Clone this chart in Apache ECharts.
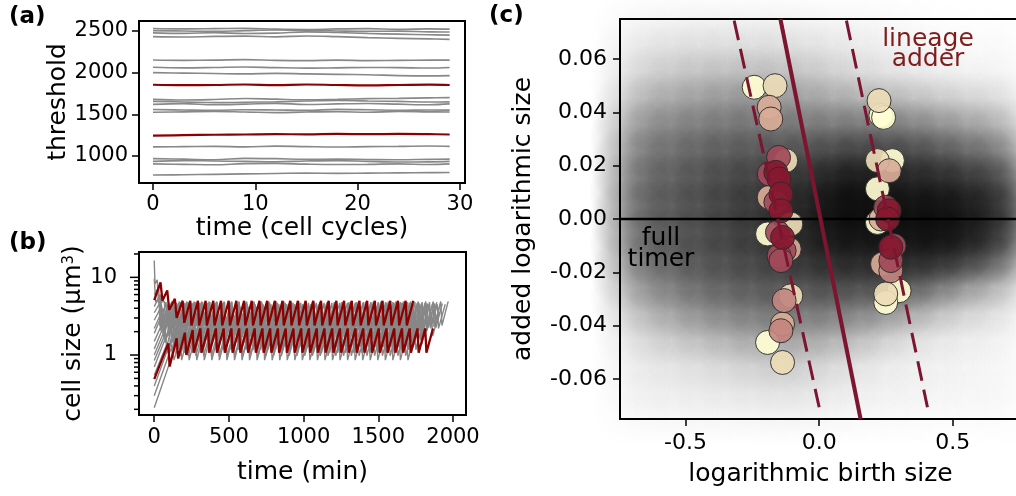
<!DOCTYPE html>
<html>
<head>
<meta charset="utf-8">
<script src="https://cdn.jsdelivr.net/npm/echarts@6/dist/echarts.min.js"></script>
<style>
  html, body { margin: 0; padding: 0; background: #fff; }
  #chart { width: 1016px; height: 496px; }
</style>
</head>
<body>
<div id="chart"></div>
<script>
// ---- (a) division threshold of each lineage, read every few cycles ----
var cycles = [0, 3, 6, 9, 12, 15, 18, 21, 24, 27, 29];
var thresholdGray = [
  [2530, 2525, 2528, 2532, 2522, 2518, 2525, 2528, 2520, 2526, 2522],
  [2505, 2500, 2495, 2505, 2512, 2508, 2500, 2495, 2498, 2490, 2488],
  [2478, 2472, 2480, 2470, 2475, 2490, 2482, 2470, 2462, 2455, 2450],
  [2432, 2428, 2435, 2438, 2430, 2440, 2432, 2420, 2412, 2405, 2400],
  [2152, 2148, 2150, 2156, 2148, 2145, 2150, 2145, 2148, 2150, 2150],
  [2065, 2058, 2062, 2068, 2060, 2055, 2058, 2062, 2060, 2056, 2062],
  [2000, 1995, 1990, 1985, 1992, 1985, 1980, 1975, 1965, 1962, 1965],
  [1680, 1672, 1678, 1690, 1682, 1675, 1680, 1688, 1692, 1698, 1700],
  [1655, 1648, 1640, 1645, 1650, 1660, 1668, 1660, 1655, 1648, 1650],
  [1620, 1628, 1615, 1622, 1632, 1618, 1625, 1630, 1622, 1615, 1625],
  [1558, 1552, 1548, 1555, 1552, 1548, 1560, 1555, 1548, 1552, 1550],
  [1525, 1530, 1535, 1528, 1520, 1528, 1532, 1525, 1535, 1530, 1528],
  [1110, 1112, 1115, 1110, 1118, 1112, 1108, 1112, 1115, 1120, 1115],
  [968, 962, 955, 972, 968, 960, 962, 958, 955, 960, 962],
  [935, 945, 940, 935, 930, 940, 945, 935, 928, 930, 935],
  [905, 900, 895, 908, 910, 902, 898, 900, 905, 898, 905],
  [772, 775, 780, 785, 790, 795, 792, 795, 798, 800, 802]
];
var thresholdRed = [
  [1855, 1850, 1852, 1858, 1850, 1858, 1852, 1848, 1852, 1856, 1852],
  [1245, 1250, 1255, 1258, 1262, 1260, 1265, 1262, 1265, 1262, 1258]
];

// ---- (b) cell size: start of each trace, then steady trough / peak / cycle length ----
var redHead = [
  [[0, 5.1], [42, 8.6], [55, 5.0], [87, 6.8], [100, 3.8], [138, 5.3], [150, 3.0], [190, 5.0], [201, 2.6], [241, 5.0]],
  [[0, 0.49], [94, 1.41], [103, 0.71], [150, 1.64], [160, 0.9], [205, 1.94], [215, 1.0], [257, 2.1]]
];
var redLow = [2.4, 1.07];
var redHigh = [5.0, 2.2];
var redPeriod = [51.5, 51.9];
var redEnd = [1740, 1870];

var grayHead = [
  [[0, 16.5], [5, 8.2], [20, 9.3], [28, 4.7], [68, 4.9]],
  [[0, 9.6], [10, 4.8], [45, 5.6]],
  [[0, 6.0], [30, 7.5]],
  [[0, 4.2], [40, 6.0]],
  [[0, 3.5], [35, 4.6]],
  [[0, 2.8], [50, 4.3]],
  [[0, 2.2], [60, 4.0]],
  [[0, 1.9], [55, 3.4]],
  [[0, 1.5], [70, 3.0]],
  [[0, 1.2], [65, 2.4]],
  [[0, 1.0], [90, 2.6]],
  [[0, 0.85], [75, 1.9]],
  [[0, 0.7], [100, 2.2]],
  [[0, 0.55], [85, 1.4]],
  [[0, 0.4], [110, 1.5]],
  [[0, 0.3], [115, 1.25]],
  [[0, 0.21], [125, 1.05]]
];
var grayLow = [2.4, 2.3, 2.35, 2.2, 2.05, 1.9, 2.25, 1.7, 1.55, 1.45, 1.75, 1.27, 1.37, 1.07, 1.17, 0.98, 0.86];
var grayHigh = [4.9, 4.7, 4.8, 4.5, 4.2, 3.9, 4.6, 3.5, 3.2, 3.0, 3.6, 2.6, 2.8, 2.2, 2.4, 2.0, 1.8];
var grayPeriod = [50, 52, 49, 53, 54, 51, 50.5, 52.5, 55, 48.5, 53.5, 50, 51, 54, 49.5, 52, 50.5];
var grayEnd = [1990, 1960, 1930, 2000, 1900, 1880, 1950, 1820, 1850, 1800, 1910, 1790, 1840, 1780, 1810, 1770, 1760];
var sizeMajorTicks = [1, 10];
var sizeMinorTicks = [0.2, 0.3, 0.4, 0.5, 0.6, 0.7, 0.8, 0.9, 2, 3, 4, 5, 6, 7, 8, 9, 20];

// ---- (c) background cloud: darkness read on a grid ----
var cloudX = [-0.7, -0.6, -0.5, -0.4, -0.3, -0.2, -0.1, 0, 0.1, 0.2, 0.3, 0.4, 0.5, 0.6, 0.7];
var cloudY = [0.07, 0.06, 0.05, 0.04, 0.03, 0.02, 0.01, 0, -0.01, -0.02, -0.03, -0.04, -0.05, -0.06, -0.07];
var cloudDark = [
  [0.06, 0.06, 0.08, 0.08, 0.08, 0.08, 0.08, 0.06, 0.05, 0.05, 0.03, 0.02, 0.01, 0.01, 0.01],
  [0.10, 0.12, 0.14, 0.14, 0.14, 0.14, 0.14, 0.12, 0.10, 0.07, 0.06, 0.05, 0.03, 0.03, 0.03],
  [0.16, 0.20, 0.24, 0.26, 0.28, 0.28, 0.25, 0.22, 0.17, 0.14, 0.12, 0.09, 0.07, 0.06, 0.05],
  [0.28, 0.32, 0.36, 0.38, 0.40, 0.40, 0.38, 0.35, 0.34, 0.34, 0.32, 0.28, 0.24, 0.20, 0.17],
  [0.38, 0.42, 0.46, 0.48, 0.50, 0.50, 0.50, 0.50, 0.52, 0.52, 0.50, 0.47, 0.42, 0.36, 0.32],
  [0.44, 0.48, 0.52, 0.56, 0.58, 0.60, 0.62, 0.65, 0.70, 0.70, 0.68, 0.66, 0.60, 0.55, 0.50],
  [0.48, 0.52, 0.56, 0.60, 0.64, 0.66, 0.70, 0.76, 0.84, 0.82, 0.78, 0.78, 0.76, 0.70, 0.66],
  [0.48, 0.52, 0.56, 0.60, 0.64, 0.68, 0.72, 0.78, 0.86, 0.84, 0.84, 0.86, 0.84, 0.76, 0.68],
  [0.46, 0.52, 0.56, 0.60, 0.62, 0.66, 0.70, 0.75, 0.78, 0.78, 0.78, 0.80, 0.78, 0.70, 0.60],
  [0.38, 0.45, 0.50, 0.55, 0.56, 0.60, 0.60, 0.65, 0.66, 0.66, 0.65, 0.60, 0.50, 0.40, 0.30],
  [0.26, 0.32, 0.40, 0.45, 0.48, 0.50, 0.50, 0.50, 0.50, 0.47, 0.42, 0.34, 0.24, 0.18, 0.12],
  [0.14, 0.20, 0.26, 0.30, 0.35, 0.37, 0.37, 0.35, 0.32, 0.26, 0.18, 0.12, 0.09, 0.07, 0.06],
  [0.08, 0.10, 0.13, 0.15, 0.18, 0.21, 0.21, 0.18, 0.14, 0.10, 0.06, 0.06, 0.05, 0.04, 0.03],
  [0.06, 0.06, 0.07, 0.09, 0.10, 0.12, 0.12, 0.10, 0.07, 0.06, 0.05, 0.05, 0.04, 0.03, 0.03],
  [0.05, 0.05, 0.06, 0.06, 0.06, 0.07, 0.07, 0.06, 0.05, 0.04, 0.04, 0.03, 0.03, 0.03, 0.03]
];

// ---- (c) lineages: [birth size, added size, colour level 0..5] ----
var lineagePoints = [
  [-0.243, 0.0494, 0], [-0.165, 0.050, 1], [-0.187, 0.0419, 2], [-0.181, 0.0375, 2],
  [-0.125, 0.0219, 1], [-0.152, 0.0231, 4], [-0.187, 0.0169, 4], [-0.162, 0.0175, 5],
  [-0.187, 0.0081, 2], [-0.150, 0.015, 5], [-0.162, 0.0063, 4], [-0.143, 0.0094, 5],
  [-0.143, 0.0031, 5], [-0.106, -0.0019, 1], [-0.193, -0.0056, 0], [-0.156, -0.005, 4],
  [-0.137, -0.0069, 5], [-0.112, -0.0113, 2], [-0.131, -0.0119, 4], [-0.150, -0.0138, 4],
  [-0.143, -0.0156, 4], [-0.106, -0.0288, 1], [-0.131, -0.0306, 3], [-0.137, -0.0394, 2],
  [-0.143, -0.0419, 3], [-0.193, -0.0463, 0], [-0.137, -0.0538, 1],
  [0.224, 0.0444, 1], [0.231, 0.0388, 0], [0.241, 0.0381, 0], [0.274, 0.0219, 0],
  [0.218, 0.0219, 1], [0.262, 0.0181, 2], [0.218, 0.0113, 0], [0.249, 0.0044, 4],
  [0.262, 0.0031, 5], [0.218, -0.0013, 0], [0.231, 0.0, 2], [0.256, 0.0, 5],
  [0.280, -0.010, 4], [0.268, -0.0106, 5], [0.268, -0.0156, 4], [0.237, -0.0169, 2],
  [0.268, -0.0194, 3], [0.299, -0.0269, 0], [0.249, -0.0281, 1], [0.249, -0.0313, 0]
];
var levelColors = ['#fffed2', '#ecdcb6', '#d8ad97', '#c2857f', '#a14a59', '#86182f'];
var timerLine = [[-0.145, 0.075], [0.155, -0.075]];
var adderLeft = [[-0.318, 0.0744], [0.0, -0.0706]];
var adderRight = [[0.102, 0.0744], [0.405, -0.0706]];

var FONT = 'DejaVu Sans';
var RED = '#8b0000';
var LINE_RED = '#7b1530';

function sawtooth(head, lo, hi, period, tEnd) {
  var pts = head.slice();
  var t = head[head.length - 1][0];
  while (t + period <= tEnd) {
    pts.push([t + 8, lo]);
    pts.push([t + period, hi]);
    t += period;
  }
  return pts;
}

function tickAxis(extra) {
  var base = {
    axisLine: { show: false, onZero: false },
    splitLine: { show: false },
    axisTick: { show: true, inside: false, length: 7, lineStyle: { color: '#000', width: 1.5 } },
    axisLabel: { color: '#000', fontFamily: FONT, fontSize: 21, formatter: function (v) { return String(v); } },
    nameTextStyle: { color: '#000', fontFamily: FONT, fontSize: 25 },
    nameLocation: 'middle'
  };
  for (var k in extra) {
    if (typeof extra[k] === 'object' && base[k] && !Array.isArray(extra[k])) {
      base[k] = Object.assign({}, base[k], extra[k]);
    } else {
      base[k] = extra[k];
    }
  }
  return base;
}

var series = [];

// (a)
thresholdGray.forEach(function (row) {
  series.push({
    type: 'line', xAxisIndex: 0, yAxisIndex: 0, showSymbol: false, smooth: 0.4, silent: true,
    data: cycles.map(function (c, i) { return [c, row[i]]; }),
    lineStyle: { color: '#888', width: 1.6 }
  });
});
thresholdRed.forEach(function (row) {
  series.push({
    type: 'line', xAxisIndex: 0, yAxisIndex: 0, showSymbol: false, smooth: 0.4, silent: true,
    data: cycles.map(function (c, i) { return [c, row[i]]; }),
    lineStyle: { color: RED, width: 2.2 }
  });
});

// (b)
grayHead.forEach(function (head, i) {
  series.push({
    type: 'line', xAxisIndex: 1, yAxisIndex: 1, showSymbol: false, silent: true,
    data: sawtooth(head, grayLow[i], grayHigh[i], grayPeriod[i], grayEnd[i]),
    lineStyle: { color: '#878787', width: 1.4 }
  });
});
redHead.forEach(function (head, i) {
  series.push({
    type: 'line', xAxisIndex: 1, yAxisIndex: 1, showSymbol: false, silent: true,
    data: sawtooth(head, redLow[i], redHigh[i], redPeriod[i], redEnd[i]),
    lineStyle: { color: RED, width: 2.3 }
  });
});
series.push({
  type: 'custom', xAxisIndex: 1, yAxisIndex: 1, clip: false, silent: true, z: 10,
  data: sizeMajorTicks.map(function (v) { return [-102, v, 8]; })
    .concat(sizeMinorTicks.map(function (v) { return [-102, v, 4]; })),
  renderItem: function (params, api) {
    var p = api.coord([api.value(0), api.value(1)]);
    return {
      type: 'line',
      shape: { x1: p[0] - api.value(2) - 1, y1: p[1], x2: p[0] - 1, y2: p[1] },
      style: { stroke: '#000', lineWidth: 1.5 }
    };
  }
});

// (c)
var cloudData = [];
cloudY.forEach(function (y, r) {
  cloudX.forEach(function (x, c) {
    var d = cloudDark[r][c];
    cloudData.push({ value: [x, y], itemStyle: { opacity: Math.min(1, -Math.log(1 - d) / 3.0) } });
  });
});
series.push({
  type: 'scatter', xAxisIndex: 2, yAxisIndex: 2, silent: true, symbolSize: 86,
  data: cloudData,
  itemStyle: {
    color: {
      type: 'radial', x: 0.5, y: 0.5, r: 0.5,
      colorStops: [
        { offset: 0, color: 'rgba(0,0,0,1)' },
        { offset: 0.5, color: 'rgba(0,0,0,0.75)' },
        { offset: 1, color: 'rgba(0,0,0,0)' }
      ]
    }
  }
});
series.push({
  type: 'line', xAxisIndex: 2, yAxisIndex: 2, showSymbol: false, silent: true,
  data: [[-0.745, 0], [0.755, 0]],
  lineStyle: { color: '#000', width: 2.5 }
});
var sortedPts = lineagePoints.slice().sort(function (a, b) { return a[2] - b[2]; });
series.push({
  type: 'scatter', xAxisIndex: 2, yAxisIndex: 2, silent: true, symbolSize: 24,
  data: sortedPts.map(function (p) {
    return { value: [p[0], p[1]], itemStyle: { color: levelColors[p[2]] } };
  }),
  itemStyle: { borderColor: '#2a2a2a', borderWidth: 1, opacity: 0.92 }
});
[adderLeft, adderRight].forEach(function (d) {
  series.push({
    type: 'line', xAxisIndex: 2, yAxisIndex: 2, showSymbol: false, silent: true, data: d,
    lineStyle: { color: LINE_RED, width: 3, type: [20, 9] }
  });
});
series.push({
  type: 'line', xAxisIndex: 2, yAxisIndex: 2, showSymbol: false, silent: true, data: timerLine,
  lineStyle: { color: LINE_RED, width: 4 }
});

var gridBox = { show: true, borderColor: '#000', borderWidth: 2, backgroundColor: 'transparent', containLabel: false, outerBoundsMode: 'none' };

var chart = echarts.init(document.getElementById('chart'));
chart.setOption({
  animation: false,
  backgroundColor: '#fff',
  textStyle: { fontFamily: FONT },
  grid: [
    Object.assign({ left: 139, top: 21, width: 326, height: 162 }, gridBox),
    Object.assign({ left: 139, top: 252, width: 327, height: 163 }, gridBox),
    Object.assign({ left: 620, top: 19, width: 401, height: 400 }, gridBox)
  ],
  xAxis: [
    tickAxis({
      type: 'value', gridIndex: 0, min: -1.37, max: 30.5,
      name: 'time (cell cycles)', nameGap: 32,
      axisTick: { customValues: [0, 10, 20, 30] },
      axisLabel: { customValues: [0, 10, 20, 30], margin: 11 }
    }),
    tickAxis({
      type: 'value', gridIndex: 1, min: -102, max: 2087,
      name: 'time (min)', nameGap: 45,
      axisTick: { customValues: [0, 500, 1000, 1500, 2000] },
      axisLabel: { customValues: [0, 500, 1000, 1500, 2000], margin: 12 }
    }),
    tickAxis({
      type: 'value', gridIndex: 2, min: -0.745, max: 0.755,
      name: 'logarithmic birth size', nameGap: 43,
      axisTick: { customValues: [-0.5, 0, 0.5] },
      axisLabel: { customValues: [-0.5, 0, 0.5], margin: 13, fontSize: 22,
        formatter: function (v) { return v.toFixed(1); } }
    })
  ],
  yAxis: [
    tickAxis({
      type: 'value', gridIndex: 0, min: 676, max: 2620,
      name: 'threshold', nameGap: 66,
      axisTick: { customValues: [1000, 1500, 2000, 2500] },
      axisLabel: { customValues: [1000, 1500, 2000, 2500], margin: 11 }
    }),
    tickAxis({
      type: 'log', logBase: 10, gridIndex: 1, min: 0.169, max: 21.2,
      name: 'cell size (μm{sup|3})', nameGap: 47,
      nameTextStyle: { rich: { sup: { fontSize: 15, verticalAlign: 'top', padding: [0, 0, 10, 0], fontFamily: FONT, color: '#000' } } },
      axisTick: { show: false },
      axisLabel: { margin: 22, showMinLabel: false, showMaxLabel: false,
        formatter: function (v) { return v >= 1 ? String(Math.round(v)) : String(v); } }
    }),
    tickAxis({
      type: 'value', gridIndex: 2, min: -0.075, max: 0.075,
      name: 'added logarithmic size', nameGap: 84,
      axisTick: { customValues: [-0.06, -0.04, -0.02, 0, 0.02, 0.04, 0.06] },
      axisLabel: { customValues: [-0.06, -0.04, -0.02, 0, 0.02, 0.04, 0.06], margin: 13, fontSize: 22,
        formatter: function (v) { return v.toFixed(2); } }
    })
  ],
  series: series,
  graphic: [
    { type: 'text', x: 9, y: 6, style: { text: '(a)', font: 'bold 23px "DejaVu Sans"', fill: '#000', verticalAlign: 'top' } },
    { type: 'text', x: 9, y: 232, style: { text: '(b)', font: 'bold 23px "DejaVu Sans"', fill: '#000', verticalAlign: 'top' } },
    { type: 'text', x: 489, y: 5, style: { text: '(c)', font: 'bold 23px "DejaVu Sans"', fill: '#000', verticalAlign: 'top' } },
    { type: 'text', x: 661, y: 238, z: 100, style: { text: 'full', font: '25px "DejaVu Sans"', fill: '#000', align: 'center', verticalAlign: 'middle' } },
    { type: 'text', x: 661, y: 259.5, z: 100, style: { text: 'timer', font: '25px "DejaVu Sans"', fill: '#000', align: 'center', verticalAlign: 'middle' } },
    { type: 'text', x: 928, y: 39.5, z: 100, style: { text: 'lineage', font: '25px "DejaVu Sans"', fill: '#7f1d1d', align: 'center', verticalAlign: 'middle' } },
    { type: 'text', x: 928, y: 59.5, z: 100, style: { text: 'adder', font: '25px "DejaVu Sans"', fill: '#7f1d1d', align: 'center', verticalAlign: 'middle' } }
  ]
});
</script>
</body>
</html>
